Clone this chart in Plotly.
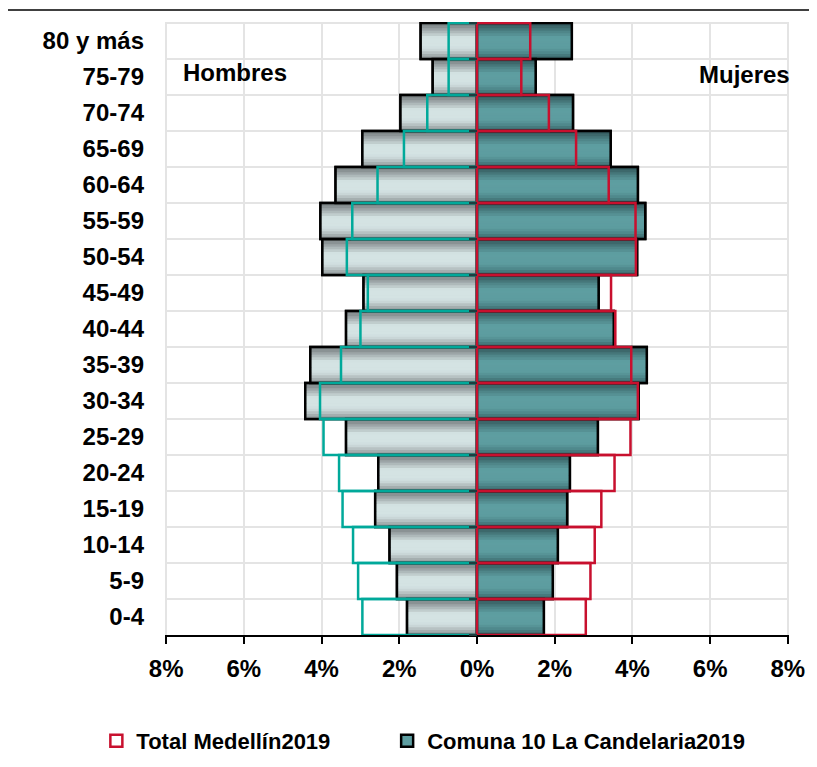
import plotly.graph_objects as go

# Age groups, bottom to top
ages = ["0-4", "5-9", "10-14", "15-19", "20-24", "25-29", "30-34", "35-39",
        "40-44", "45-49", "50-54", "55-59", "60-64", "65-69", "70-74", "75-79", "80 y más"]

# Comuna 10 La Candelaria 2019 (% of population)
cand_hombres = [1.80, 2.06, 2.25, 2.62, 2.54, 3.37, 4.42, 4.29, 3.37, 2.92, 3.98, 4.03, 3.64, 2.95, 1.97, 1.14, 1.45]
cand_mujeres = [1.72, 1.95, 2.08, 2.32, 2.39, 3.11, 4.16, 4.37, 3.52, 3.13, 4.12, 4.33, 4.14, 3.44, 2.47, 1.51, 2.44]

# Total Medellín 2019 (% of population)
med_hombres = [2.95, 3.06, 3.19, 3.46, 3.55, 3.95, 4.04, 3.50, 3.00, 2.81, 3.35, 3.21, 2.56, 1.88, 1.28, 0.73, 0.73]
med_mujeres = [2.80, 2.92, 3.03, 3.20, 3.54, 3.95, 4.14, 3.97, 3.56, 3.45, 4.09, 4.08, 3.39, 2.55, 1.85, 1.14, 1.37]

x_ticks = [-8, -6, -4, -2, 0, 2, 4, 6, 8]
x_ticktext = ["8%", "6%", "4%", "2%", "0%", "2%", "4%", "6%", "8%"]

FONT = "Liberation Sans, Arial, sans-serif"

# gradient stops (position from bottom of bar, color)
men_stops = [(0.0, (0x86, 0x8e, 0x90)), (0.12, (0xa8, 0xb2, 0xb3)), (0.25, (0xc9, 0xd6, 0xd7)),
             (0.35, (0xd4, 0xe3, 0xe3)), (0.6, (0xd4, 0xe3, 0xe3)), (0.72, (0xb6, 0xc1, 0xc2)),
             (0.85, (0x95, 0x9d, 0x9f)), (1.0, (0x70, 0x77, 0x79))]
wom_stops = [(0.0, (0x36, 0x5d, 0x60)), (0.15, (0x4c, 0x85, 0x88)), (0.3, (0x5d, 0x9c, 0x9f)),
             (0.6, (0x5e, 0x9e, 0xa1)), (0.75, (0x4f, 0x86, 0x89)), (0.9, (0x3c, 0x66, 0x69)),
             (1.0, (0x2e, 0x52, 0x55))]


def interp(stops, p):
    for (p0, c0), (p1, c1) in zip(stops[:-1], stops[1:]):
        if p0 <= p <= p1:
            t = 0 if p1 == p0 else (p - p0) / (p1 - p0)
            c = [round(a + (b - a) * t) for a, b in zip(c0, c1)]
            return "rgb(%d,%d,%d)" % tuple(c)
    c = stops[-1][1]
    return "rgb(%d,%d,%d)" % tuple(c)


fig = go.Figure()
NB = 14

neg_cand_h = [-v for v in cand_hombres]
neg_med_h = [-v for v in med_hombres]


def add_gradient(vals, stops, base_color, legend_name=None):
    fig.add_trace(go.Bar(
        y=ages, x=vals, orientation="h", width=1.0, offset=-0.5,
        marker=dict(color=base_color, line=dict(color="black", width=2.5)),
        name=legend_name or "", showlegend=legend_name is not None, legend="legend2",
        hoverinfo="skip"))
    for i in range(NB):
        lo = i / NB
        hi = (i + 1) / NB
        pc = (lo + hi) / 2
        fig.add_trace(go.Bar(
            y=ages, x=vals, orientation="h", width=min(hi - lo + 0.012, 1 - lo), offset=-0.5 + lo,
            marker=dict(color=interp(stops, pc), line=dict(width=0)),
            showlegend=False, hoverinfo="skip"))
    fig.add_trace(go.Bar(
        y=ages, x=vals, orientation="h", width=1.0, offset=-0.5,
        marker=dict(color="rgba(0,0,0,0)", line=dict(color="black", width=2.5)),
        showlegend=False, hoverinfo="skip"))


add_gradient(neg_cand_h, men_stops, "#c9d6d7")
add_gradient(cand_mujeres, wom_stops, "#5e9ea1", "Comuna 10 La Candelaria2019")

fig.add_trace(go.Bar(
    y=ages, x=neg_med_h, orientation="h", width=1.0, offset=-0.5, yaxis="y2",
    marker=dict(color="rgba(0,0,0,0)", line=dict(color="#00a99a", width=2.5)),
    showlegend=False, hoverinfo="skip"))
fig.add_trace(go.Bar(
    y=ages, x=med_mujeres, orientation="h", width=1.0, offset=-0.5, yaxis="y2",
    marker=dict(color="rgba(255,255,255,0)", line=dict(color="#c8102e", width=2.5)),
    name="Total Medellín2019", legend="legend", hoverinfo="skip"))

legend_font = dict(size=22, family=FONT, weight="bold")

fig.update_layout(
    width=809, height=759,
    margin=dict(l=157, r=28, t=14, b=132, autoexpand=False),
    paper_bgcolor="white", plot_bgcolor="white",
    barmode="overlay",
    font=dict(family=FONT, color="black"),
    xaxis=dict(range=[-8.03, 8.03], tickvals=x_ticks, ticktext=x_ticktext,
               tickfont=dict(size=24, family=FONT, weight="bold"),
               showgrid=True, gridcolor="#e4e4e4", gridwidth=2,
               showline=True, linecolor="black", linewidth=1.5,
               ticks="outside", ticklen=7, tickcolor="black", tickwidth=1.5,
               ticklabelstandoff=4, zeroline=False, fixedrange=True, automargin=False),
    yaxis=dict(type="category", categoryorder="array", categoryarray=ages,
               range=[-0.5, 16.53], tickson="boundaries", ticks="",
               tickfont=dict(size=24, family=FONT, weight="bold"),
               showgrid=True, gridcolor="#e4e4e4", gridwidth=2,
               showline=False, zeroline=False, ticklabelstandoff=20, fixedrange=True,
               automargin=False),
    yaxis2=dict(type="category", categoryorder="array", categoryarray=ages,
                overlaying="y", matches="y", anchor="free", position=0.5, side="left",
                tickson="boundaries", ticks="outside", ticklen=8, tickwidth=2,
                tickcolor="#1e3e40", showticklabels=False, showgrid=False,
                showline=False, zeroline=False, automargin=False),
    legend=dict(orientation="h", x=-0.110, xanchor="left", y=-0.173, yanchor="middle",
                font=legend_font, bgcolor="rgba(0,0,0,0)"),
    legend2=dict(orientation="h", x=0.356, xanchor="left", y=-0.173, yanchor="middle",
                 font=legend_font, bgcolor="rgba(0,0,0,0)"),
    annotations=[
        dict(text="Hombres", xref="paper", yref="paper", x=0.025, y=0.917,
             xanchor="left", yanchor="middle", showarrow=False,
             font=dict(size=24, family=FONT, weight="bold")),
        dict(text="Mujeres", xref="paper", yref="paper", x=1.005, y=0.914,
             xanchor="right", yanchor="middle", showarrow=False,
             font=dict(size=24, family=FONT, weight="bold")),
    ],
    shapes=[dict(type="line", xref="paper", yref="paper", x0=-0.27, x1=1.05,
                 y0=1.0196, y1=1.0196, line=dict(color="black", width=1.5))],
    showlegend=True,
)

fig.write_html("out.html")
